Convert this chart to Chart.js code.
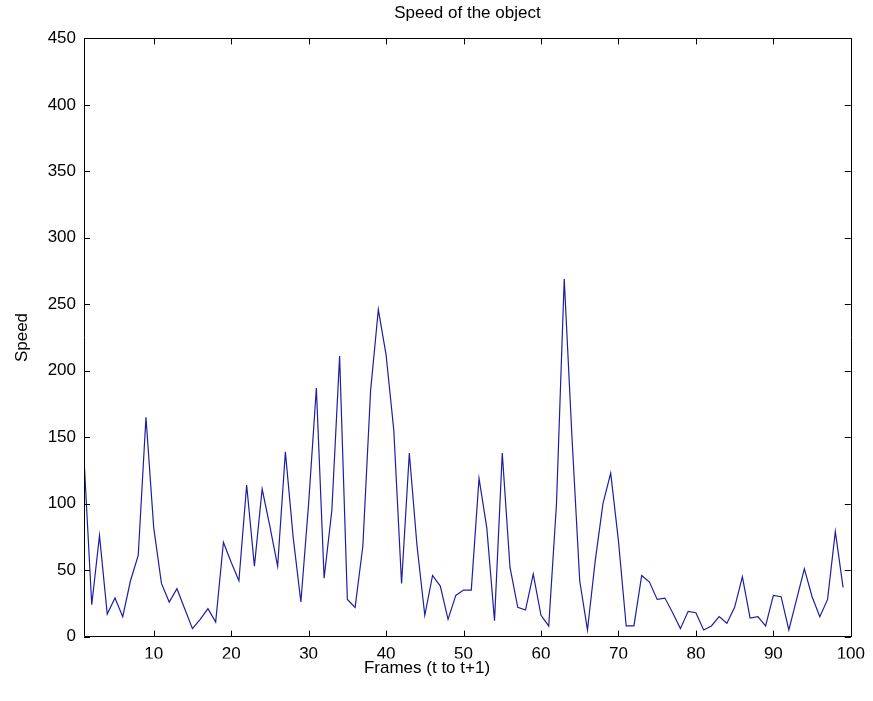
<!DOCTYPE html>
<html>
<head>
<meta charset="utf-8">
<title>Speed of the object</title>
<script src="https://cdn.jsdelivr.net/npm/chart.js@4.4.1/dist/chart.umd.min.js"></script>
<style>
  html, body { margin: 0; padding: 0; background: #fff; }
  #wrap { width: 873px; height: 701px; position: relative; }
</style>
</head>
<body>
<div id="wrap"><canvas id="speed-chart"></canvas></div>
<script>
// frame index (t to t+1)
const frames = Array.from({ length: 99 }, (_, i) => i + 1);

// speed, one value per frame
const speeds = [
  134, 24, 76, 17, 29, 15, 42, 61, 165, 82,
  40, 26, 36, 21, 6, 13, 21, 11, 71, 56,
  42, 114, 53, 111, 83, 53, 139, 75, 26, 100,
  187, 44, 95, 211, 28, 22, 68, 185, 246, 212,
  155, 40, 138, 68, 16, 46, 38, 13, 31, 35,
  35, 119, 82, 12, 138, 52, 22, 20, 47, 16,
  8, 100, 269, 150, 42, 5, 57, 100, 123, 72,
  8, 8, 46, 41, 28, 29, 18, 6, 19, 18,
  5, 8, 15, 10, 22, 45, 14, 15, 8, 31,
  30, 5, 28, 51, 30, 15, 28, 79, 37
];

const xTicks = [10, 20, 30, 40, 50, 60, 70, 80, 90, 100];
const yTicks = [0, 50, 100, 150, 200, 250, 300, 350, 400, 450];

const FONT = "'Liberation Sans', Arial, sans-serif";

// MATLAB style box with inward tick marks on all four sides
const boxTicks = {
  id: "boxTicks",
  afterDraw(chart) {
    const { ctx, chartArea: a, scales } = chart;
    const len = 6;
    ctx.save();
    ctx.strokeStyle = "#000";
    ctx.lineWidth = 1;
    ctx.beginPath();
    ctx.rect(Math.round(a.left) + 0.5, Math.round(a.top) + 0.5,
      Math.round(a.right - a.left), Math.round(a.bottom - a.top));
    xTicks.forEach((v) => {
      const px = Math.round(scales.x.getPixelForValue(v)) + 0.5;
      ctx.moveTo(px, a.bottom);
      ctx.lineTo(px, a.bottom - len);
      ctx.moveTo(px, a.top);
      ctx.lineTo(px, a.top + len);
    });
    yTicks.forEach((v) => {
      const py = Math.round(scales.y.getPixelForValue(v)) + 0.5;
      ctx.moveTo(a.left, py);
      ctx.lineTo(a.left + len, py);
      ctx.moveTo(a.right, py);
      ctx.lineTo(a.right - len, py);
    });
    ctx.stroke();
    ctx.restore();
  },
};

document.addEventListener("DOMContentLoaded", () => {
  const ctx = document.getElementById("speed-chart").getContext("2d");

  new Chart(ctx, {
    type: "line",
    data: {
      labels: frames,
      datasets: [
        {
          label: "Speed",
          data: speeds,
          borderColor: "#1e1ea0",
          borderWidth: 1.2,
          pointRadius: 0,
          tension: 0,
          fill: false,
        },
      ],
    },
    options: {
      responsive: true,
      maintainAspectRatio: false,
      animation: false,
      devicePixelRatio: 1,
      layout: { padding: { top: 0, right: 19, bottom: 0, left: 0 } },
      plugins: {
        legend: { display: false },
        tooltip: { enabled: false },
        title: {
          display: true,
          fullSize: false,
          text: "Speed of the object",
          color: "#000",
          font: { family: FONT, size: 17, weight: "normal" },
          padding: { top: 3, bottom: 15 },
        },
        // x axis label, placed below the tick labels
        subtitle: {
          display: true,
          position: "bottom",
          text: "Frames (t to t+1)",
          color: "#000",
          font: { family: FONT, size: 17, weight: "normal" },
          padding: { top: 0, bottom: 22 },
        },
      },
      scales: {
        x: {
          type: "linear",
          min: 1,
          max: 100,
          grid: { display: false, drawTicks: false },
          border: { display: false },
          afterBuildTicks: (scale) => {
            scale.ticks = xTicks.map((v) => ({ value: v }));
          },
          afterFit: (scale) => {
            scale.height = 22;
          },
          ticks: {
            color: "#000",
            padding: 8,
            maxRotation: 0,
            autoSkip: false,
            font: { family: FONT, size: 17 },
          },
        },
        y: {
          type: "linear",
          min: 0,
          max: 450,
          grid: { display: false, drawTicks: false },
          border: { display: false },
          afterBuildTicks: (scale) => {
            scale.ticks = yTicks.map((v) => ({ value: v }));
          },
          afterFit: (scale) => {
            scale.width = 84;
          },
          ticks: {
            color: "#000",
            padding: 8,
            font: { family: FONT, size: 17 },
          },
          title: {
            display: true,
            text: "Speed",
            color: "#000",
            font: { family: FONT, size: 17 },
            padding: { top: 12, bottom: 0 },
          },
        },
      },
    },
    plugins: [boxTicks],
  });
});
</script>
</body>
</html>
